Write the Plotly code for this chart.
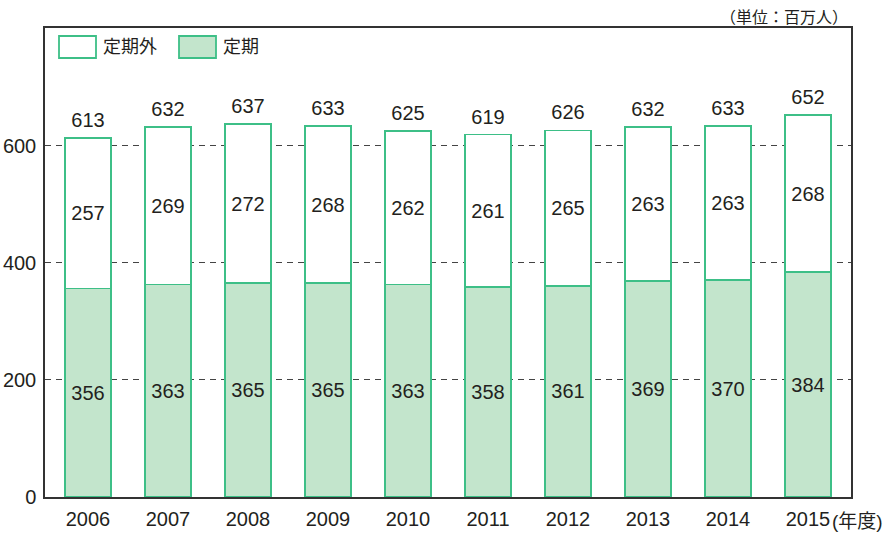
import plotly.graph_objects as go

years = ["2006", "2007", "2008", "2009", "2010", "2011", "2012", "2013", "2014", "2015"]
regular = [356, 363, 365, 365, 363, 358, 361, 369, 370, 384]          # 定期
non_regular = [257, 269, 272, 268, 262, 261, 265, 263, 263, 268]      # 定期外
totals = [613, 632, 637, 633, 625, 619, 626, 632, 633, 652]
y_ticks = [0, 200, 400, 600]

FONT = "Liberation Sans, Arial, Noto Sans CJK JP, sans-serif"
GREEN = "#3dbf87"
LIGHT = "#c3e5cc"
TXT = "#231f20"
FS = 20

fig = go.Figure()
fig.add_trace(go.Bar(
    x=years, y=regular, name="定期",
    marker=dict(color=LIGHT, line=dict(color=GREEN, width=1.8)),
    text=[str(v) for v in regular], textposition="inside",
    insidetextanchor="middle", textangle=0,
    textfont=dict(family=FONT, size=FS, color=TXT),
))
fig.add_trace(go.Bar(
    x=years, y=non_regular, name="定期外",
    marker=dict(color="white", line=dict(color=GREEN, width=1.8)),
    text=[str(v) for v in non_regular], textposition="inside",
    insidetextanchor="middle", textangle=0,
    textfont=dict(family=FONT, size=FS, color=TXT),
))
fig.add_trace(go.Scatter(
    x=years, y=totals, mode="markers+text", text=[str(v) for v in totals],
    textposition="top center",
    marker=dict(size=8, color="rgba(0,0,0,0)"),
    textfont=dict(family=FONT, size=FS, color=TXT),
    showlegend=False, hoverinfo="skip", cliponaxis=False,
))

# legend drawn as shapes + labels (paper coords)
W, H = 891, 540
ml, mr, mt, mb = 45, 40, 28, 43
pw, ph = W - ml - mr, H - mt - mb

def px(x):
    return (x - ml) / pw

def py(y):
    return 1 - (y - mt) / ph

shapes = []
annotations = []
for (x0, x1, fill, label, tx) in [(59, 96, "white", "定期外", 101), (179, 216, LIGHT, "定期", 221)]:
    shapes.append(dict(type="rect", xref="paper", yref="paper",
                       x0=px(x0), x1=px(x1), y0=py(58), y1=py(36),
                       fillcolor=fill, line=dict(color=GREEN, width=1.8), layer="above"))
    annotations.append(dict(xref="paper", yref="paper", x=px(tx), y=py(47),
                            xanchor="left", yanchor="middle", text=label, showarrow=False,
                            font=dict(family=FONT, size=18, color=TXT)))

annotations.append(dict(xref="paper", yref="paper", x=px(850), y=1.0, xanchor="right", yanchor="bottom",
                        yshift=0, text="（単位：百万人）", showarrow=False,
                        font=dict(family=FONT, size=16, color=TXT)))
annotations.append(dict(xref="paper", yref="paper", x=px(830), y=py(521), xanchor="left", yanchor="middle",
                        text="(年度)", showarrow=False,
                        font=dict(family=FONT, size=19, color=TXT)))

fig.update_layout(
    width=W, height=H,
    margin=dict(l=ml, r=mr, t=mt, b=mb, autoexpand=False),
    barmode="stack", bargap=0.425,
    plot_bgcolor="white", paper_bgcolor="white",
    showlegend=False,
    shapes=shapes, annotations=annotations,
    font=dict(family=FONT, size=FS, color=TXT),
)
fig.update_xaxes(
    type="category", automargin=False, range=[-0.5375, 9.5375],
    showline=True, linecolor="#333333", linewidth=1.5, mirror=True,
    showgrid=False, ticks="", ticklabelstandoff=3,
    tickfont=dict(family=FONT, size=FS, color=TXT),
)
fig.update_yaxes(
    automargin=False,
    range=[0, 801], tickvals=y_ticks, showline=True, linecolor="#333333", linewidth=1.5, mirror=True,
    showgrid=True, gridcolor="#444444", gridwidth=1, griddash="6px,5px", zeroline=False,
    ticks="", ticklabelstandoff=3, tickfont=dict(family=FONT, size=FS, color=TXT),
)

fig.write_html("out.html", config={"displayModeBar": False},
               post_script="document.body.style.margin='0';")
